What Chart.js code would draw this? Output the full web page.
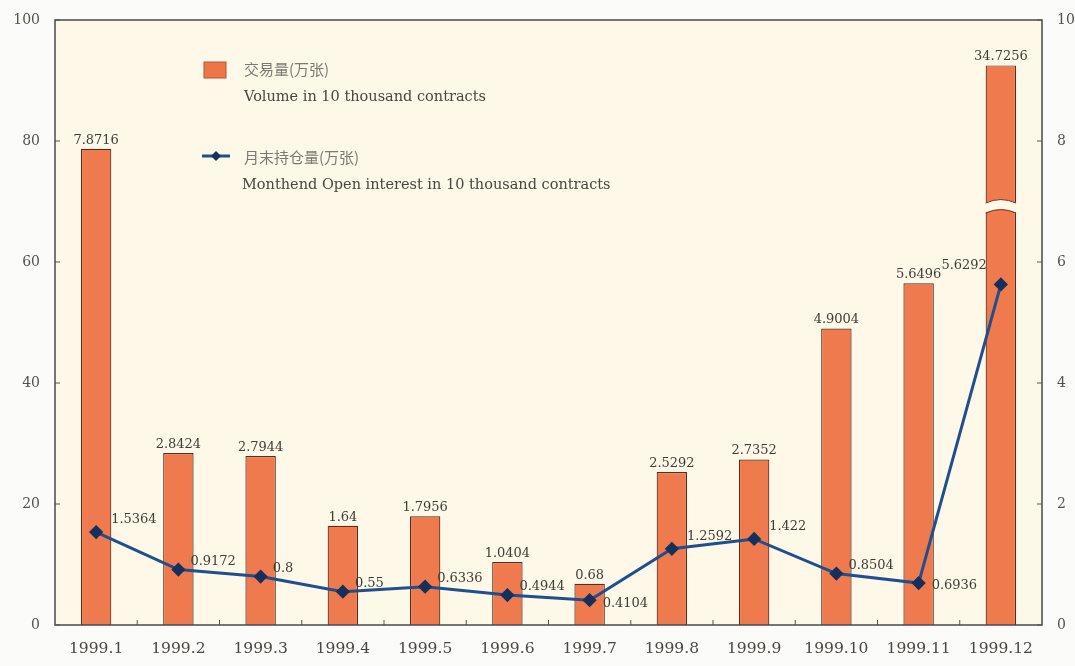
<!DOCTYPE html>
<html>
<head>
<meta charset="utf-8">
<script src="https://cdn.jsdelivr.net/npm/chart.js@4.4.1/dist/chart.umd.min.js"></script>
<style>
  html, body { margin: 0; padding: 0; background: #fbfbf9; }
  #wrap { width: 1075px; height: 666px; position: relative; }
</style>
</head>
<body>
<div id="wrap"><canvas id="chart" width="1075" height="666"></canvas></div>
<script>
// months
var months = ["1999.1", "1999.2", "1999.3", "1999.4", "1999.5", "1999.6",
              "1999.7", "1999.8", "1999.9", "1999.10", "1999.11", "1999.12"];
// volume, 10k contracts
var volume = [7.8716, 2.8424, 2.7944, 1.64, 1.7956, 1.0404,
              0.68, 2.5292, 2.7352, 4.9004, 5.6496, 34.7256];
// month-end open interest, 10k contracts
var openInterest = [1.5364, 0.9172, 0.8, 0.55, 0.6336, 0.4944,
                    0.4104, 1.2592, 1.422, 0.8504, 0.6936, 5.6292];
var leftTicks = [0, 20, 40, 60, 80, 100];
var rightTicks = [0, 2, 4, 6, 8, 10];
// bars over the top are cut with a break mark
var brokenBarTop = 9.25;
var breakAt = 6.9;

// where each open-interest label sits from its point
var oiLabelSide = ["ne", "e", "e", "e", "e", "e", "se", "ne", "ne", "e", "se", "w"];

var serif = '"DejaVu Serif", "Liberation Serif", serif';
var cjk = '"Noto Sans CJK SC", sans-serif';

var barData = volume.map(function (v) { return v > 10 ? brokenBarTop : v; });

var decor = {
    id: 'decor',
    beforeDraw: function (chart) {
        var c = chart.ctx, a = chart.chartArea;
        c.save();
        c.fillStyle = '#fdf8e8';
        c.fillRect(a.left, a.top, a.right - a.left, a.bottom - a.top);
        c.restore();
    },
    afterDatasetsDraw: function (chart) {
        var c = chart.ctx, a = chart.chartArea;
        var yR = chart.scales.yR, yL = chart.scales.yL, x = chart.scales.x;
        c.save();
        // break mark on the tall bar
        var bars = chart.getDatasetMeta(0).data;
        bars.forEach(function (b, i) {
            if (volume[i] <= 10) return;
            var y = yR.getPixelForValue(breakAt);
            var w = b.width / 2 + 2;
            c.fillStyle = '#fdf8e8';
            c.beginPath();
            c.moveTo(b.x - w, y - 4);
            c.quadraticCurveTo(b.x, y - 12, b.x + w, y - 4);
            c.lineTo(b.x + w, y + 6);
            c.quadraticCurveTo(b.x, y - 2, b.x - w, y + 6);
            c.closePath();
            c.fill();
            c.strokeStyle = '#6a3020';
            c.lineWidth = 1;
            c.beginPath();
            c.moveTo(b.x - w + 2, y - 4.5);
            c.quadraticCurveTo(b.x, y - 11.5, b.x + w - 2, y - 4.5);
            c.moveTo(b.x - w + 2, y + 5.5);
            c.quadraticCurveTo(b.x, y - 1.5, b.x + w - 2, y + 5.5);
            c.stroke();
        });
        // bar labels
        c.font = '13px ' + serif;
        c.fillStyle = '#403c37';
        c.textAlign = 'center';
        c.textBaseline = 'bottom';
        bars.forEach(function (b, i) {
            c.fillText(String(volume[i]), b.x, b.y - 2);
        });
        // line labels
        var pts = chart.getDatasetMeta(1).data;
        pts.forEach(function (p, i) {
            var side = oiLabelSide[i], dx = 6, dy = 0;
            c.textAlign = 'left';
            c.textBaseline = 'middle';
            if (side === 'ne') { dx = 15; dy = -12; }
            if (side === 'e') { dx = 12; dy = -8; }
            if (side === 'se') { dx = 13; dy = 3; }
            if (side === 'w') { c.textAlign = 'right'; dx = -14; dy = -19; }
            c.fillText(String(openInterest[i]), p.x + dx, p.y + dy);
        });
        // frame
        c.strokeStyle = '#4a4a4a';
        c.lineWidth = 1.5;
        c.strokeRect(a.left, a.top, a.right - a.left, a.bottom - a.top);
        // inward ticks
        c.lineWidth = 1;
        c.strokeStyle = '#555';
        c.beginPath();
        leftTicks.forEach(function (t) {
            var y = yL.getPixelForValue(t);
            c.moveTo(a.left, y); c.lineTo(a.left + 5, y);
        });
        rightTicks.forEach(function (t) {
            var y = yR.getPixelForValue(t);
            c.moveTo(a.right, y); c.lineTo(a.right - 5, y);
        });
        for (var i = 1; i < months.length; i++) {
            var xp = (x.getPixelForValue(i - 1) + x.getPixelForValue(i)) / 2;
            c.moveTo(xp, a.bottom); c.lineTo(xp, a.bottom - 5);
        }
        c.stroke();
        // legend
        c.fillStyle = '#ec764a';
        c.fillRect(204, 62, 22, 16);
        c.strokeStyle = '#b4553a';
        c.strokeRect(204, 62, 22, 16);
        c.strokeStyle = '#1f4f8f';
        c.lineWidth = 3;
        c.beginPath(); c.moveTo(202, 156); c.lineTo(230, 156); c.stroke();
        c.fillStyle = '#15305c';
        c.beginPath();
        c.moveTo(216, 151); c.lineTo(221, 156); c.lineTo(216, 161); c.lineTo(211, 156);
        c.closePath(); c.fill();
        c.textAlign = 'left';
        c.textBaseline = 'middle';
        c.fillStyle = '#7d7972';
        c.font = '15px ' + cjk;
        c.fillText('交易量(万张)', 244, 69);
        c.fillText('月末持仓量(万张)', 244, 157);
        c.fillStyle = '#4a4640';
        c.font = '14.5px ' + serif;
        c.fillText('Volume in 10 thousand contracts', 244, 97);
        c.fillText('Monthend Open interest in 10 thousand contracts', 242, 185);
        c.restore();
    }
};

new Chart(document.getElementById('chart').getContext('2d'), {
    type: 'bar',
    data: {
        labels: months,
        datasets: [{
            type: 'bar',
            data: barData,
            yAxisID: 'yR',
            backgroundColor: '#ef7a4e',
            borderColor: '#5c2c1e',
            borderWidth: 1.2,
            barPercentage: 0.37,
            categoryPercentage: 1,
            order: 2
        }, {
            type: 'line',
            data: openInterest,
            yAxisID: 'yR',
            borderColor: '#1f4f8f',
            borderWidth: 3,
            pointStyle: 'rectRot',
            pointRadius: 5,
            pointBackgroundColor: '#15305c',
            pointBorderColor: '#15305c',
            tension: 0,
            order: 1
        }]
    },
    options: {
        responsive: false,
        animation: false,
        layout: { padding: { top: 20, bottom: 0, left: 0, right: 0 } },
        plugins: { legend: { display: false }, tooltip: { enabled: false } },
        scales: {
            x: {
                grid: { display: false },
                border: { display: false },
                ticks: { color: '#4a4640', font: { family: serif, size: 15.5 }, padding: 7, maxRotation: 0 },
                afterFit: function (s) { s.height = 41; }
            },
            yL: {
                position: 'left',
                display: true,
                min: 0, max: 100,
                afterBuildTicks: function (s) { s.ticks = leftTicks.map(function (v) { return { value: v }; }); },
                grid: { display: false },
                border: { display: false },
                ticks: { color: '#55524c', font: { family: serif, size: 14 }, padding: 7 },
                afterFit: function (s) { s.width = 55; }
            },
            yR: {
                position: 'right',
                min: 0, max: 10,
                afterBuildTicks: function (s) { s.ticks = rightTicks.map(function (v) { return { value: v }; }); },
                grid: { display: false },
                border: { display: false },
                ticks: { color: '#55524c', font: { family: serif, size: 14 }, padding: 7 },
                afterFit: function (s) { s.width = 33; }
            }
        }
    },
    plugins: [decor]
});
</script>
</body>
</html>
